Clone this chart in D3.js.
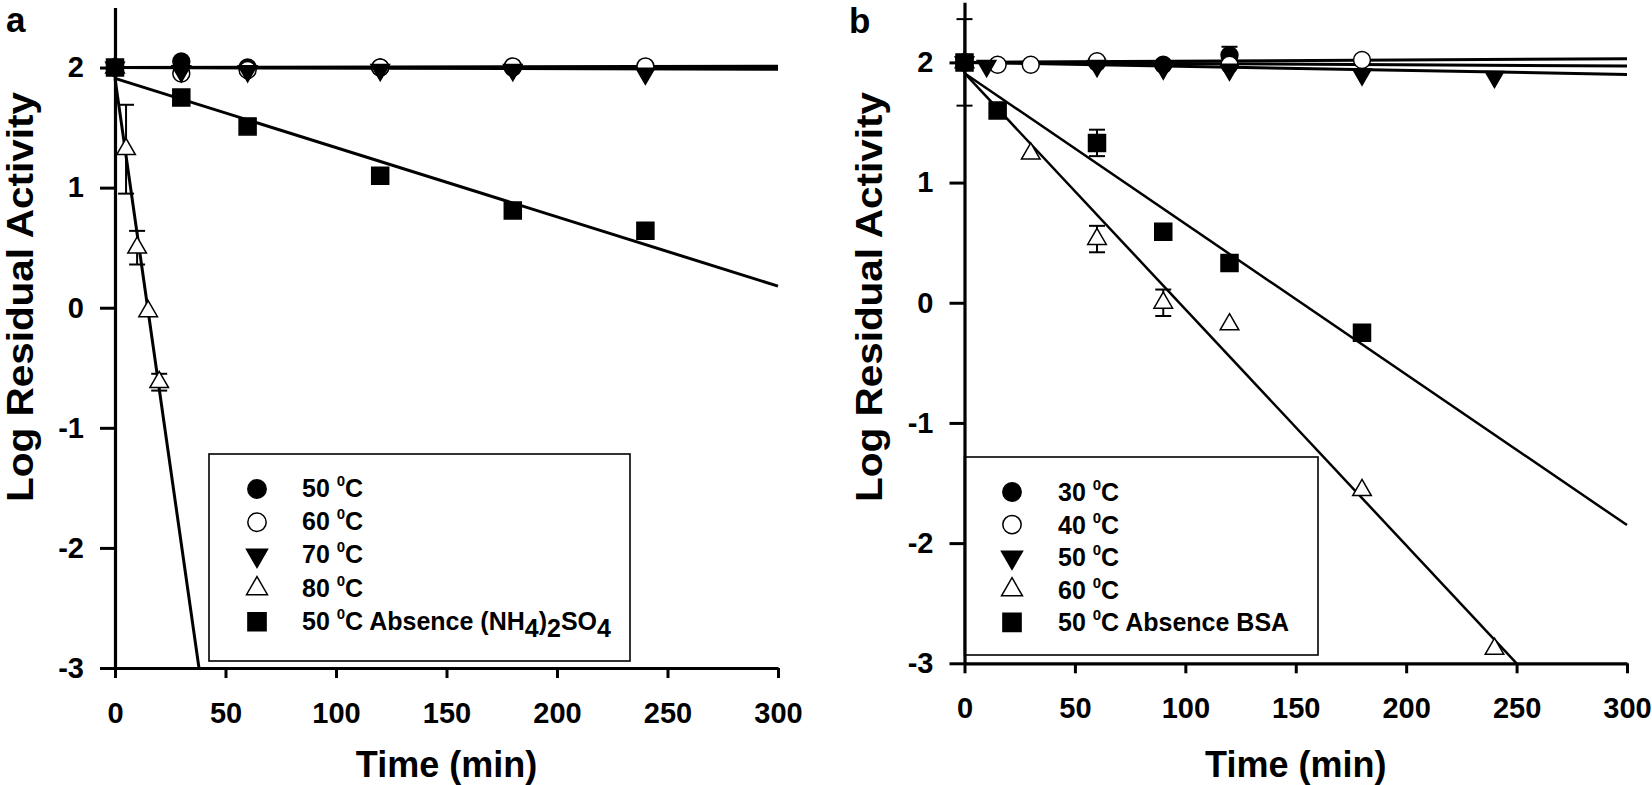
<!DOCTYPE html>
<html><head><meta charset="utf-8">
<script src="https://cdn.jsdelivr.net/npm/d3@7"></script>
<style>
body{margin:0;background:#fff}
svg{display:block}
text{font-family:"Liberation Sans",Arial,sans-serif;font-weight:bold;fill:#000}
</style>
</head><body><svg id="c" width="1652" height="785"></svg>
<script>
// ---------- shared labels / ticks ----------
const xTicks = [0, 50, 100, 150, 200, 250, 300];
const yTicks = [-3, -2, -1, 0, 1, 2];
const xTitle = "Time (min)";
const yTitle = "Log Residual Activity";

// ---------- panel a data ----------
const aT50 = [0, 30, 60, 120, 180];
const aV50 = [2.00, 2.05, 2.00, 2.00, 2.00];
const aT60 = [0, 30, 60, 120, 180, 240];
const aV60 = [2.00, 1.95, 1.98, 2.00, 2.01, 2.01];
const aT70 = [0, 30, 60, 120, 180, 240];
const aV70 = [2.00, 1.97, 1.97, 1.98, 1.98, 1.95];
const aT80 = [0, 5, 10, 15, 20];
const aV80 = [2.00, 1.32, 0.50, -0.03, -0.62];
const aE80 = [0.03, 0.37, 0.14, 0, 0.07];
const aTAbs = [0, 30, 60, 120, 180, 240];
const aVAbs = [2.00, 1.75, 1.51, 1.10, 0.81, 0.64];
const aFits = [
  [[0, 2.00], [300, 2.00]],
  [[0, 2.00], [300, 1.985]],
  [[0, 2.00], [300, 2.01]],
  [[0, 1.91], [300, 0.18]],
  [[0, 1.91], [38, -3.00]]
];
const aLegend = ["50 ^0C", "60 ^0C", "70 ^0C", "80 ^0C", "50 ^0C Absence (NH_4)_2SO_4"];

// ---------- panel b data ----------
const bT30 = [0, 60, 90, 120];
const bV30 = [2.00, 2.00, 1.98, 2.06];
const bE30 = [0, 0, 0, 0.07];
const bT40 = [0, 15, 30, 60, 120, 180];
const bV40 = [2.00, 1.98, 1.98, 2.01, 1.98, 2.02];
const bT50 = [0, 10, 60, 90, 120, 180, 240];
const bV50 = [2.00, 1.97, 1.97, 1.95, 1.94, 1.90, 1.88];
const bT60 = [0, 30, 60, 90, 120, 180, 240];
const bV60 = [2.00, 1.24, 0.53, 0.00, -0.18, -1.56, -2.88];
const bE60 = [0, 0, 0.11, 0.11, 0, 0, 0];
const bTAbs = [0, 15, 60, 90, 120, 180];
const bVAbs = [2.00, 1.60, 1.33, 0.59, 0.33, -0.25];
const bEAbs = [0.36, 0, 0.11, 0, 0, 0];
const bFits = [
  [[0, 2.00], [300, 2.03]],
  [[0, 2.00], [300, 1.97]],
  [[0, 2.00], [300, 1.90]],
  [[0, 1.91], [300, -1.85]],
  [[0, 1.91], [250, -3.00]]
];
const bLegend = ["30 ^0C", "40 ^0C", "50 ^0C", "60 ^0C", "50 ^0C Absence BSA"];

// ---------- marker styles ----------
const styles = [
  {type: d3.symbolCircle, fill: "#000", rot: 0, size: 225},
  {type: d3.symbolCircle, fill: "#fff", rot: 0, size: 225},
  {type: d3.symbolTriangle, fill: "#000", rot: 180, size: 150},
  {type: d3.symbolTriangle, fill: "#fff", rot: 0, size: 150},
  {type: d3.symbolSquare, fill: "#000", rot: 0, size: 289}
];

const panels = [
  {
    label: "a", labelX: 6, labelY: 32,
    xr: [115, 778], yr: [668, 7.5],
    series: [[aT50, aV50, null], [aT60, aV60, null], [aT70, aV70, null], [aT80, aV80, aE80], [aTAbs, aVAbs, null]],
    fits: aFits, fitW: [3, 3, 3, 3, 3],
    legend: aLegend,
    box: [209, 454, 630, 661], symX: 257, rowY0: 489, rowDY: 33.2, txtX: 302, txtDY: 8,
    yTitleX: 33
  },
  {
    label: "b", labelX: 849, labelY: 33,
    xr: [964.5, 1627], yr: [663.3, 2.3],
    series: [[bT30, bV30, bE30], [bT40, bV40, null], [bT50, bV50, null], [bT60, bV60, bE60], [bTAbs, bVAbs, bEAbs]],
    fits: bFits, fitW: [3, 3, 3, 2.5, 2.5],
    legend: bLegend,
    box: [964.5, 457, 1318, 655], symX: 1012, rowY0: 492, rowDY: 32.6, txtX: 1058, txtDY: 9,
    yTitleX: 882
  }
];

const svg = d3.select("#c");

function drawLabel(sel, str) {
  const parts = str.split(/([\^_]\d)/).filter(s => s.length);
  let shift = 0;
  parts.forEach(p => {
    let target = 0, size = null, txt = p;
    if (p[0] === "^") { target = -11; size = 15; txt = p.slice(1); }
    else if (p[0] === "_") { target = 7; txt = p.slice(1); }
    const ts = sel.append("tspan").attr("dy", target - shift).text(txt);
    if (size) ts.attr("font-size", size);
    shift = target;
  });
}

panels.forEach(P => {
  const x = d3.scaleLinear().domain([0, 300]).range(P.xr);
  const y = d3.scaleLinear().domain([-3, 2.5]).range(P.yr);
  const g = svg.append("g");

  // fits
  const line = d3.line().x(d => x(d[0])).y(d => y(d[1]));
  P.fits.forEach((f, i) => {
    g.append("path").attr("d", line(f)).attr("fill", "none")
      .attr("stroke", "#000").attr("stroke-width", P.fitW[i]);
  });

  // legend box (under axes)
  const [bx0, by0, bx1, by1] = P.box;
  g.append("rect").attr("x", bx0).attr("y", by0).attr("width", bx1 - bx0).attr("height", by1 - by0)
    .attr("fill", "#fff").attr("stroke", "#000").attr("stroke-width", 1.6);

  // axes
  const ya = g.append("g").attr("transform", `translate(${P.xr[0]},0)`)
    .call(d3.axisLeft(y).tickValues(yTicks).tickSize(15).tickSizeOuter(0).tickPadding(16).tickFormat(d3.format("d")));
  const xa = g.append("g").attr("transform", `translate(0,${y(-3)})`)
    .call(d3.axisBottom(x).tickValues(xTicks).tickSize(10).tickSizeOuter(0).tickPadding(24).tickFormat(d3.format("d")));
  [ya, xa].forEach(a => {
    a.attr("font-family", null).attr("font-size", 29);
    a.select(".domain").attr("stroke-width", 3.2);
    a.selectAll(".tick line").attr("stroke-width", 3);
    a.selectAll("text").attr("font-size", 29);
  });
  ya.selectAll("text").text(d => d < 0 ? "-" + Math.abs(d) : d);

  // error bars
  P.series.forEach(([t, v, e]) => {
    if (!e) return;
    t.forEach((tt, i) => {
      if (!e[i]) return;
      const cx = x(tt), y0 = y(v[i] - e[i]), y1 = y(v[i] + e[i]);
      g.append("line").attr("x1", cx).attr("x2", cx).attr("y1", y0).attr("y2", y1).attr("stroke", "#000").attr("stroke-width", 2);
      [y0, y1].forEach(yy => g.append("line").attr("x1", cx - 8).attr("x2", cx + 8).attr("y1", yy).attr("y2", yy).attr("stroke", "#000").attr("stroke-width", 2));
    });
  });

  // markers
  P.series.forEach(([t, v], si) => {
    const st = styles[si];
    const sym = d3.symbol().type(st.type).size(st.size);
    t.forEach((tt, i) => {
      g.append("path").attr("d", sym())
        .attr("transform", `translate(${x(tt)},${y(v[i])}) rotate(${st.rot})`)
        .attr("fill", st.fill).attr("stroke", "#000").attr("stroke-width", 1.5);
    });
  });

  // legend entries
  P.legend.forEach((lab, i) => {
    const st = styles[i];
    const ry = P.rowY0 + i * P.rowDY;
    g.append("path").attr("d", d3.symbol().type(st.type).size(st.size + 40)())
      .attr("transform", `translate(${P.symX},${ry}) rotate(${st.rot})`)
      .attr("fill", st.fill).attr("stroke", "#000").attr("stroke-width", 1.5);
    const tx = g.append("text").attr("x", P.txtX).attr("y", ry + P.txtDY).attr("font-size", 25);
    drawLabel(tx, lab);
  });

  // titles
  g.append("text").attr("x", (P.xr[0] + P.xr[1]) / 2).attr("y", 777)
    .attr("text-anchor", "middle").attr("font-size", 36).text(xTitle);
  g.append("text").attr("transform", `translate(${P.yTitleX},297) rotate(-90)`)
    .attr("text-anchor", "middle").attr("font-size", 36)
    .attr("textLength", 410).attr("lengthAdjust", "spacingAndGlyphs").text(yTitle);

  // panel label
  g.append("text").attr("x", P.labelX).attr("y", P.labelY).attr("font-size", 35).text(P.label);
});
</script>
</body></html>
